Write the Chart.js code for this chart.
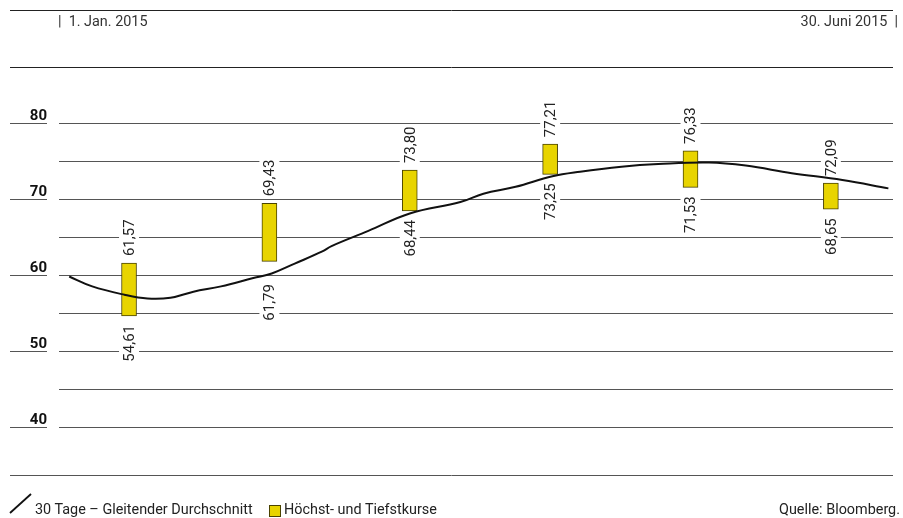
<!DOCTYPE html>
<html>
<head>
<meta charset="utf-8">
<script src="https://cdn.jsdelivr.net/npm/chart.js@4.4.0/dist/chart.umd.min.js"></script>
<style>
  body { margin: 0; background: #fff; }
  #wrap { position: relative; width: 903px; height: 518px; font-family: Roboto, "Noto Sans", sans-serif; color: #222; }
  #chart { position: absolute; left: 0; top: 0; }
  .txt { position: absolute; font-size: 14.4px; line-height: 16px; white-space: nowrap; }
</style>
</head>
<body>
<div id="wrap">
  <canvas id="chart" width="903" height="518"></canvas>
  <span class="txt" style="left:58px; top:14px; color:#333;">|&nbsp;&nbsp;1. Jan. 2015</span>
  <span class="txt" style="right:5px; top:14px; color:#333;">30. Juni 2015&nbsp;&nbsp;|</span>
  <span class="txt" style="left:35px; top:502px;">30 Tage – Gleitender Durchschnitt</span>
  <span class="txt" style="left:284px; top:502px;">Höchst- und Tiefstkurse</span>
  <span class="txt" style="right:3px; top:502px;">Quelle: Bloomberg.</span>
</div>
<script>
// monthly high / low (bars placed at mid-month, x in days since 1 Jan)
const months = ["Jan", "Feb", "Mär", "Apr", "Mai", "Jun"];
const monthDays = [15, 45.5, 76, 106.5, 137, 167.5];
const highs = [61.57, 69.43, 73.80, 77.21, 76.33, 72.09];
const lows = [54.61, 61.79, 68.44, 73.25, 71.53, 68.65];

// 30-day moving average
const maDays = [2, 7, 14, 19, 24, 29, 35, 42, 46, 51, 57, 59, 67, 76, 87, 92, 99, 107, 113, 122, 130, 141, 149, 159, 170, 180];
const maValues = [59.8, 58.5, 57.4, 56.9, 57.0, 57.8, 58.5, 59.6, 60.2, 61.5, 63.1, 63.8, 65.8, 68.1, 69.6, 70.7, 71.6, 73.0, 73.6, 74.25, 74.6, 74.8, 74.4, 73.4, 72.5, 71.4];

const gridValues = [40, 45, 50, 55, 60, 65, 70, 75, 80];
const axisLabels = [40, 50, 60, 70, 80];

const fmt = v => v.toFixed(2).replace(".", ",");

// moving average value at a given day (linear between read points)
function maAt(d) {
    for (let i = 1; i < maDays.length; i++) {
        if (d <= maDays[i]) {
            const t = (d - maDays[i - 1]) / (maDays[i] - maDays[i - 1]);
            return maValues[i - 1] + t * (maValues[i] - maValues[i - 1]);
        }
    }
    return maValues[maValues.length - 1];
}

const decor = {
    id: "decor",
    beforeDatasetsDraw(chart) {
        const ctx = chart.ctx;
        const x = chart.scales.x;
        const y = chart.scales.y;
        ctx.save();
        ctx.lineWidth = 1;
        // top rules
        ctx.strokeStyle = "#222";
        ctx.beginPath();
        ctx.moveTo(10, 10.5); ctx.lineTo(893, 10.5);
        ctx.moveTo(10, 67.5); ctx.lineTo(893, 67.5);
        ctx.stroke();
        // grid
        ctx.strokeStyle = "#555";
        gridValues.forEach(v => {
            const py = Math.round(y.getPixelForValue(v)) + 0.5;
            ctx.beginPath();
            ctx.moveTo(59, py); ctx.lineTo(893, py);
            if (axisLabels.includes(v)) { ctx.moveTo(10, py); ctx.lineTo(47, py); }
            ctx.stroke();
        });
        // bottom rule
        ctx.beginPath();
        ctx.moveTo(10, 475.5); ctx.lineTo(893, 475.5);
        ctx.stroke();
        // y labels
        ctx.fillStyle = "#111";
        ctx.font = "bold 15px Roboto";
        ctx.textAlign = "right";
        ctx.textBaseline = "alphabetic";
        axisLabels.forEach(v => {
            ctx.fillText(String(v), 47, y.getPixelForValue(v) - 3);
        });
        // legend marks
        ctx.strokeStyle = "#111";
        ctx.lineWidth = 1.8;
        ctx.beginPath();
        ctx.moveTo(10, 513); ctx.lineTo(31, 494);
        ctx.stroke();
        ctx.fillStyle = "#e8d400";
        ctx.fillRect(269.5, 505.5, 11, 11);
        ctx.strokeStyle = "#4a4300";
        ctx.lineWidth = 1;
        ctx.strokeRect(269.5, 505.5, 11, 11);

        // value labels (rotated, white backing breaks the grid)
        ctx.font = "15px Roboto";
        ctx.textBaseline = "middle";
        monthDays.forEach((d, i) => {
            const px = x.getPixelForValue(d);
            const top = y.getPixelForValue(highs[i]);
            const bot = y.getPixelForValue(lows[i]);
            const lineY = y.getPixelForValue(maAt(d));
            // push the low label under the average line when it runs just below the bar
            const lowStart = lineY > bot + 3 ? Math.max(bot + 9, lineY + 10) : bot + 9;
            [[highs[i], top - 7, "left"], [lows[i], lowStart, "right"]].forEach(([v, py, align]) => {
                const t = fmt(v);
                const w = ctx.measureText(t).width;
                ctx.save();
                ctx.translate(px, py);
                ctx.rotate(-Math.PI / 2);
                ctx.fillStyle = "#fff";
                if (align === "left") ctx.fillRect(-2, -10, w + 4, 20);
                else ctx.fillRect(-w - 2, -10, w + 4, 20);
                ctx.fillStyle = "#222";
                ctx.textAlign = align;
                ctx.fillText(t, 0, 1);
                ctx.restore();
            });
        });
        ctx.restore();
    }
};

new Chart(document.getElementById("chart"), {
    data: {
        datasets: [
            {
                type: "line",
                label: "30 Tage – Gleitender Durchschnitt",
                data: maDays.map((d, i) => ({ x: d, y: maValues[i] })),
                borderColor: "#111",
                borderWidth: 2,
                pointRadius: 0,
                tension: 0.4,
                order: 0
            },
            {
                type: "bar",
                label: "Höchst- und Tiefstkurse",
                data: monthDays.map((d, i) => ({ x: d, y: [lows[i], highs[i]] })),
                backgroundColor: "#e8d400",
                borderColor: "#4a4300",
                borderWidth: 1,
                borderSkipped: false,
                barThickness: 15,
                order: 1
            }
        ]
    },
    options: {
        responsive: false,
        animation: false,
        devicePixelRatio: 1,
        layout: { padding: { left: 60, right: 10, top: 85, bottom: 53 } },
        plugins: { legend: { display: false }, tooltip: { enabled: false } },
        scales: {
            x: { type: "linear", min: 0, max: 181, offset: false, display: false },
            y: { type: "linear", min: 35, max: 85, display: false }
        }
    },
    plugins: [decor]
});
</script>
</body>
</html>
